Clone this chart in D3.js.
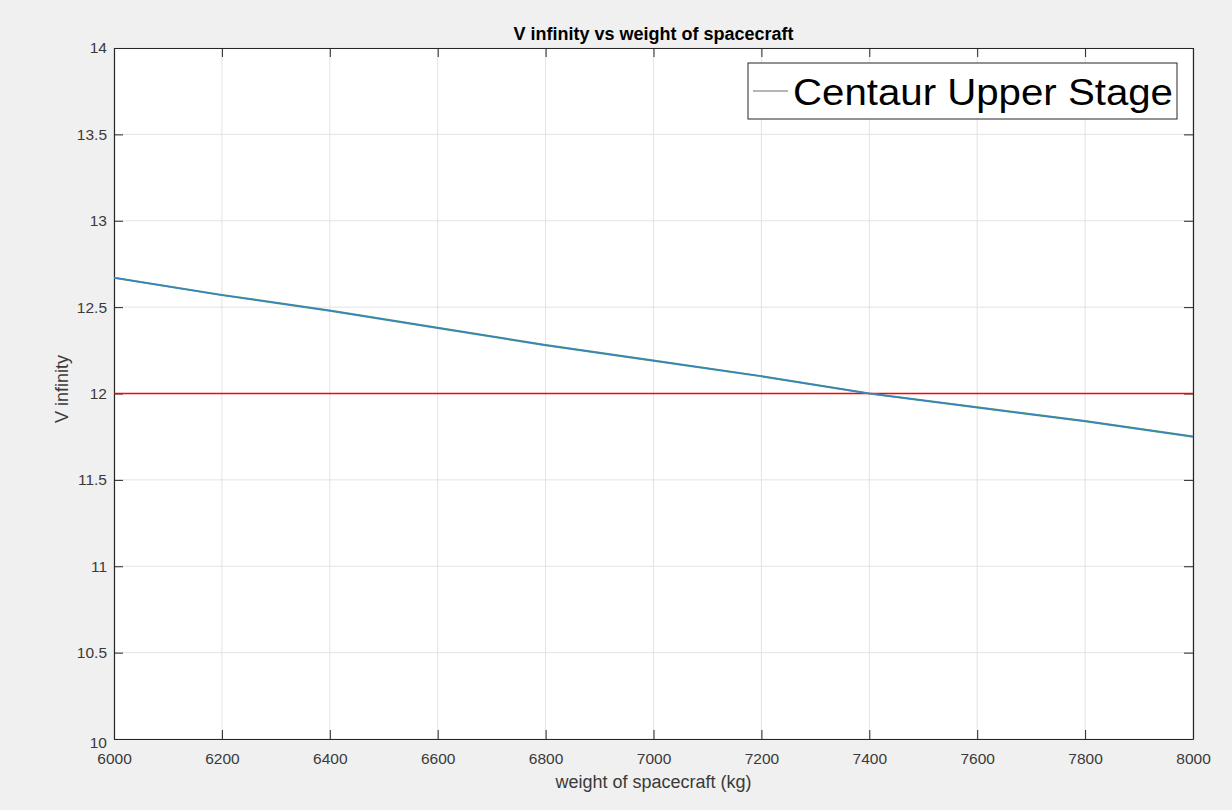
<!DOCTYPE html>
<html><head><meta charset="utf-8">
<script src="https://cdn.jsdelivr.net/npm/d3@7"></script>
<style>
html,body{margin:0;padding:0;background:#f0f0f0;}
svg{display:block;font-family:"Liberation Sans",Arial,sans-serif;}
</style></head>
<body>
<svg id="chart" width="1232" height="810"></svg>
<script>
const weights = [6000, 6200, 6400, 6600, 6800, 7000, 7200, 7400, 7600, 7800, 8000];
const vInfinity = [12.67, 12.57, 12.48, 12.38, 12.28, 12.19, 12.10, 12.00, 11.92, 11.84, 11.75];
const thresholdValue = [12, 12];
const thresholdWeights = [6000, 8000];
const xTicks = [6000, 6200, 6400, 6600, 6800, 7000, 7200, 7400, 7600, 7800, 8000];
const yTicks = [10, 10.5, 11, 11.5, 12, 12.5, 13, 13.5, 14];
const titleText = "V infinity vs weight of spacecraft";
const xLabel = "weight of spacecraft (kg)";
const yLabel = "V infinity";
const legendLabel = "Centaur Upper Stage";

const svg = d3.select("#chart");
const L = 114, T = 48, R = 1193, B = 739;
const x = d3.scaleLinear().domain([6000, 8000]).range([L, R]);
const y = d3.scaleLinear().domain([10, 14]).range([B, T]);

svg.append("rect").attr("width",1232).attr("height",810).attr("fill","#f0f0f0");
svg.append("rect").attr("x",L).attr("y",T).attr("width",R-L).attr("height",B-T).attr("fill","#ffffff");

// grid
const grid = svg.append("g").attr("class","grid");
grid.selectAll("line.gx").data(xTicks).join("line").attr("class","gx")
  .attr("x1",d=>x(d)).attr("x2",d=>x(d)).attr("y1",T).attr("y2",B)
  .attr("stroke","#e3e3e3").attr("stroke-width",1);
grid.selectAll("line.gy").data(yTicks).join("line").attr("class","gy")
  .attr("y1",d=>y(d)).attr("y2",d=>y(d)).attr("x1",L).attr("x2",R)
  .attr("stroke","#e3e3e3").attr("stroke-width",1);

// axes (ticks inward)
const fmt = d => String(d);
const axB = svg.append("g").attr("transform",`translate(0,${B})`)
  .call(d3.axisBottom(x).tickValues(xTicks).tickFormat(fmt).tickSizeInner(-9).tickSizeOuter(0).tickPadding(14));
const axT = svg.append("g").attr("transform",`translate(0,${T})`)
  .call(d3.axisTop(x).tickValues(xTicks).tickFormat("").tickSizeInner(-9).tickSizeOuter(0));
const axL = svg.append("g").attr("transform",`translate(${L},0)`)
  .call(d3.axisLeft(y).tickValues(yTicks).tickFormat(fmt).tickSizeInner(-9).tickSizeOuter(0).tickPadding(7));
const axR = svg.append("g").attr("transform",`translate(${R},0)`)
  .call(d3.axisRight(y).tickValues(yTicks).tickFormat("").tickSizeInner(-9).tickSizeOuter(0));
[axB,axT,axL,axR].forEach(a=>{
  a.select(".domain").attr("stroke","#262626").attr("stroke-width",1.2);
  a.selectAll(".tick line").attr("stroke","#262626");
  a.selectAll("text").attr("fill","#3a3a3a").style("font-size","15.5px").style("font-family","'Liberation Sans',Arial,sans-serif");
});
axB.selectAll(".tick text").attr("dy","0.71em");
axL.selectAll(".tick text").attr("dy","0.32em");
axL.selectAll(".tick text").filter(d=>d===10).attr("dy","0.52em");

// series
const pts = weights.map((wv,i)=>[wv, vInfinity[i]]);
const lineGen = d3.line().x(d=>x(d[0])).y(d=>y(d[1]));
const thr = thresholdWeights.map((wv,i)=>[wv, thresholdValue[i]]);
svg.append("path").attr("class","threshold").datum(thr).attr("d",lineGen)
  .style("fill","none").style("stroke","rgb(255,0,0)").style("stroke-width","1.3px");
svg.append("path").datum(pts).attr("d",lineGen)
  .style("fill","none").style("stroke","#4c9f84").style("stroke-width","2.2px");
svg.append("path").datum(pts).attr("d",lineGen)
  .style("fill","none").style("stroke","#3b7fc4").style("stroke-width","1.3px");

// title & labels
svg.append("text").attr("x",(L+R)/2).attr("y",40).attr("text-anchor","middle")
  .style("font-weight","bold").style("font-size","18px").attr("fill","#000").text(titleText);
svg.append("text").attr("x",(L+R)/2).attr("y",788).attr("text-anchor","middle")
  .style("font-size","18px").attr("fill","#3a3a3a").text(xLabel);
svg.append("text").attr("transform",`translate(68,389) rotate(-90)`).attr("text-anchor","middle")
  .style("font-size","18px").attr("fill","#3a3a3a").text(yLabel);

// legend
const lg = svg.append("g");
lg.append("rect").attr("x",748).attr("y",63).attr("width",429).attr("height",56)
  .attr("fill","#ffffff").attr("stroke","#262626").attr("stroke-width",1);
lg.append("line").attr("x1",753).attr("x2",788).attr("y1",91).attr("y2",91)
  .attr("stroke","#6d6d6d").attr("stroke-width",1.2);
const lt = lg.append("text").attr("x",793).attr("y",104.5)
  .style("font-size","37px").attr("fill","#000").text(legendLabel);
lt.attr("textLength", 380).attr("lengthAdjust","spacingAndGlyphs");
</script>
</body></html>
